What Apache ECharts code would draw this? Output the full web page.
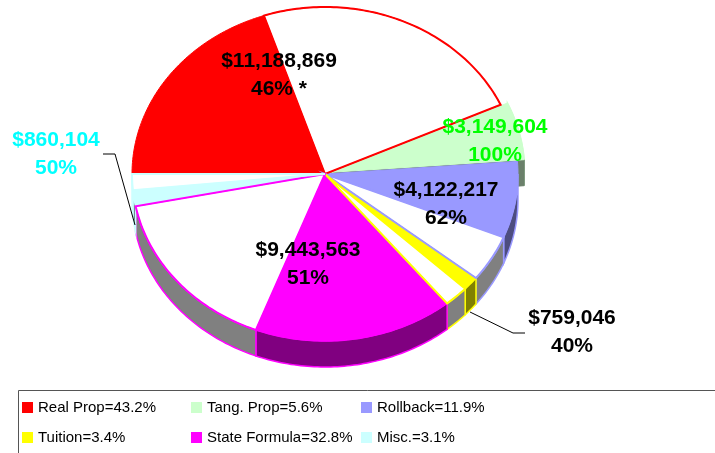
<!DOCTYPE html>
<html>
<head>
<meta charset="utf-8">
<script src="https://cdn.jsdelivr.net/npm/echarts@6/dist/echarts.min.js"></script>
<style>
html, body { margin: 0; padding: 0; background: #fff; }
#main { width: 715px; height: 453px; }
</style>
</head>
<body>
<div id="main"></div>
<script>
// data
var categories = ['Real Prop', 'Tang. Prop', 'Rollback', 'Tuition', 'State Formula', 'Misc.'];
var shares = [43.2, 5.6, 11.9, 3.4, 32.8, 3.1];                       // % of total (legend)
var amounts = [11188869, 3149604, 4122217, 759046, 9443563, 860104];  // coloured part in $
var fundedPct = [46, 100, 62, 40, 51, 50];                           // coloured share of each slice
var labelMarks = ['*', '', '', '', '', ''];

// styles / layout
var colors = ['#ff0000', '#ccffcc', '#9999ff', '#ffff00', '#ff00ff', '#ccffff'];
var sideColors = ['#800000', '#668066', '#4d4d80', '#808000', '#800080', '#668080'];
var labelColors = ['#000000', '#00ff00', '#000000', '#000000', '#000000', '#00ffff'];
var explode = [0, 7, 0, 0, 0, 0];
var labelPos = [[279, 75], [495, 141], [446, 204], [572, 332], [308, 264], [56, 154]];
var leaderLines = {
    3: [[525, 333], [513, 333], [470, 312]],
    5: [[103, 154], [115, 154], [135, 225]]
};
var cx = 325, cy = 174, rx = 193, ry = 167, depth = 26, startAngle = 180;
var labelFont = 'bold 21px "Liberation Sans", Arial, sans-serif';

// split each slice into coloured part + white remainder, clockwise from 9 o'clock
var portions = [];
var acc = startAngle;
categories.forEach(function (name, i) {
    var span = shares[i] / 100 * 360;
    var colSpan = span * fundedPct[i] / 100;
    portions.push({cat: i, white: false, a1: acc, a2: acc - colSpan});
    if (fundedPct[i] < 100) {
        portions.push({cat: i, white: true, a1: acc - colSpan, a2: acc - span});
    }
    acc -= span;
});
// exploded slice is drawn first so the rest covers its hidden walls
portions.sort(function (a, b) { return explode[b.cat] - explode[a.cat]; });

function fmt(v) {
    return '$' + v.toLocaleString('en-US');
}

function renderItem(params, api) {
    var p = portions[params.dataIndex];
    var e = explode[p.cat];
    var mid = (p.a1 + p.a2) / 2 * Math.PI / 180;
    var ox = e * Math.cos(mid), oy = -e * Math.sin(mid);
    var base = params.dataIndex * 10;

    function pt(a, r, dz) {
        var t = a * Math.PI / 180;
        return [cx + ox + rx * r * Math.cos(t), cy + oy - ry * r * Math.sin(t) + dz];
    }
    function arc(a, b, dz) {
        var pts = [];
        var n = Math.max(2, Math.ceil(Math.abs(a - b)));
        for (var k = 0; k <= n; k++) {
            pts.push(pt(a + (b - a) * k / n, 1, dz));
        }
        return pts;
    }

    var children = [];
    var col = colors[p.cat];

    // outer wall (front half only, whole range for the exploded piece)
    var hi = e ? p.a1 : Math.min(p.a1, 0);
    var lo = Math.max(p.a2, -180);
    if (hi > lo) {
        children.push({
            type: 'polygon',
            z2: base + 1,
            shape: {points: arc(hi, lo, 0).concat(arc(lo, hi, depth))},
            style: {fill: p.white ? '#808080' : sideColors[p.cat], stroke: col, lineWidth: 1.5}
        });
    }
    if (e) {
        children.push({
            type: 'polygon',
            z2: base + 2,
            shape: {points: [pt(p.a2, 0, 0), pt(p.a2, 1, 0), pt(p.a2, 1, depth), pt(p.a2, 0, depth)]},
            style: {fill: '#6b806b', stroke: '#6b806b', lineWidth: 1}
        });
    }
    // top face
    var topPts = [pt(0, 0, 0)].concat(arc(p.a1, p.a2, 0));
    children.push({
        type: 'polygon',
        z2: base + 3,
        shape: {points: topPts},
        style: {fill: p.white ? '#ffffff' : col, stroke: col, lineWidth: 1}
    });
    // the white remainder keeps an outline in its category colour
    if (p.white) {
        children.push({
            type: 'polygon',
            z2: 500 + base,
            shape: {points: topPts},
            style: {fill: null, stroke: col, lineWidth: 2}
        });
    }

    // label for the coloured part
    if (!p.white) {
        var i = p.cat;
        var txt = fmt(amounts[i]) + '\n' + fundedPct[i] + '%' + (labelMarks[i] ? ' ' + labelMarks[i] : '');
        if (leaderLines[i]) {
            children.push({
                type: 'polyline',
                z2: 900,
                shape: {points: leaderLines[i]},
                style: {stroke: '#000', lineWidth: 1, fill: null}
            });
        }
        children.push({
            type: 'text',
            z2: 1000,
            style: {
                text: txt,
                x: labelPos[i][0],
                y: labelPos[i][1],
                align: 'center',
                verticalAlign: 'middle',
                font: labelFont,
                lineHeight: 28,
                fill: labelColors[i]
            }
        });
    }
    return {type: 'group', children: children};
}

var legendNames = categories.map(function (c, i) { return c + '=' + shares[i] + '%'; });
var colX = [22, 191, 361];

var myChart = echarts.init(document.getElementById('main'));
var option = {
    animation: false,
    legend: colX.map(function (x, c) {
        return {
            orient: 'vertical',
            left: x,
            top: 399,
            padding: 0,
            itemGap: 13,
            itemWidth: 11,
            itemHeight: 11,
            icon: 'rect',
            selectedMode: false,
            data: [legendNames[c], legendNames[c + 3]],
            textStyle: {
                fontFamily: '"Liberation Sans", Arial, sans-serif',
                fontSize: 15,
                lineHeight: 17,
                color: '#000'
            }
        };
    }),
    graphic: [{
        type: 'rect',
        shape: {x: 18.5, y: 390.5, width: 720, height: 80},
        style: {fill: null, stroke: '#555', lineWidth: 1},
        silent: true
    }],
    series: [
        {
            // only feeds the legend
            type: 'pie',
            radius: [0, 0],
            silent: true,
            label: {show: false},
            labelLine: {show: false},
            data: legendNames.map(function (n, i) {
                return {name: n, value: shares[i], itemStyle: {color: colors[i]}};
            })
        },
        {
            type: 'custom',
            coordinateSystem: 'none',
            silent: true,
            renderItem: renderItem,
            data: portions.map(function (p) { return p.a1; })
        }
    ]
};
myChart.setOption(option);
</script>
</body>
</html>
